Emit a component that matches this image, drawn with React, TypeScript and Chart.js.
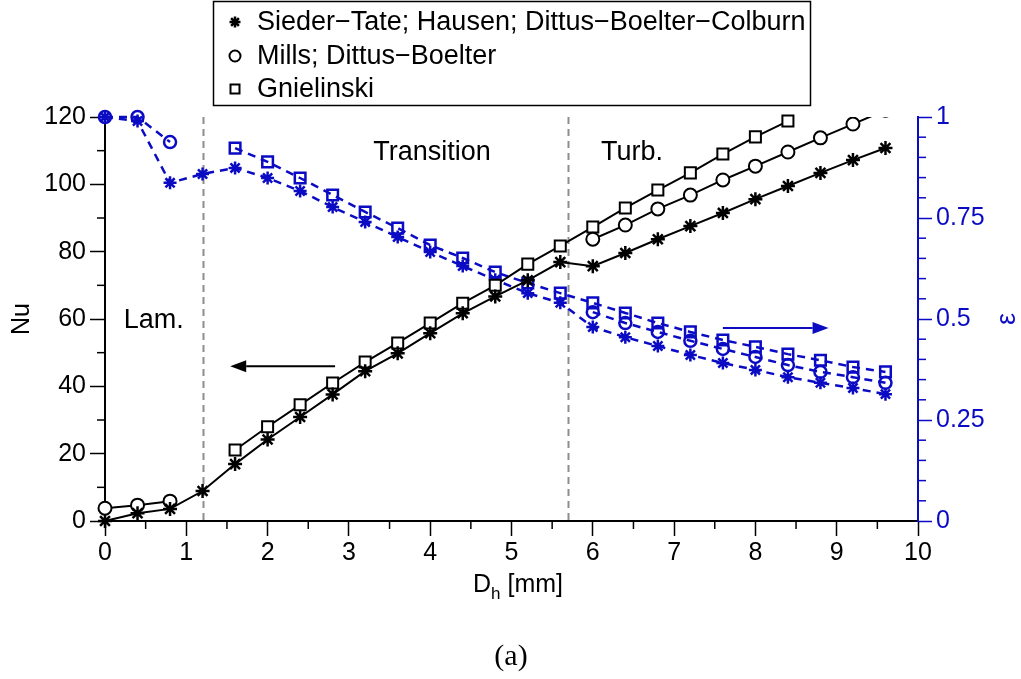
import { useEffect, useRef } from 'react';
import { Chart, registerables } from 'chart.js';

Chart.register(...registerables);

// Hydraulic diameter D_h [mm]
const diameters = [0, 0.4, 0.8, 1.2, 1.6, 2.0, 2.4, 2.8, 3.2, 3.6, 4.0, 4.4, 4.8, 5.2, 5.6, 6.0, 6.4, 6.8, 7.2, 7.6, 8.0, 8.4, 8.8, 9.2, 9.6];

// Nusselt number (left axis)
const nuSiederTate = [0, 2.3, 3.6, 8.9, 16.9, 24.2, 30.9, 37.6, 44.5, 49.8, 55.8, 61.7, 66.7, 71.5, 76.9, 75.7, 79.6, 83.7, 87.6, 91.5, 95.6, 99.5, 103.4, 107.2, 110.8];
const nuMills = [3.8, 4.7, 5.9, null, null, null, null, null, null, null, null, null, null, null, null, 83.7, 87.9, 92.7, 96.8, 101.3, 105.4, 109.6, 113.8, 117.9, 122];
const nuGnielinski = [null, null, null, null, 21.1, 28, 34.5, 41, 47.2, 52.9, 58.8, 64.7, 70, 76.3, 81.7, 87.3, 93, 98.3, 103.4, 109, 114.1, 118.8, null, null, null];

// Effectiveness ε (right axis)
const epsSiederTate = [1.0, 0.99, 0.837, 0.859, 0.874, 0.849, 0.817, 0.777, 0.74, 0.703, 0.666, 0.631, 0.597, 0.564, 0.54, 0.48, 0.455, 0.433, 0.411, 0.391, 0.374, 0.356, 0.342, 0.329, 0.314];
const epsMills = [1.0, 1.0, 0.938, null, null, null, null, null, null, null, null, null, null, null, null, 0.517, 0.49, 0.468, 0.446, 0.426, 0.406, 0.386, 0.369, 0.356, 0.342];
const epsGnielinski = [null, null, null, null, 0.923, 0.889, 0.849, 0.807, 0.765, 0.725, 0.683, 0.651, 0.616, 0.589, 0.564, 0.54, 0.515, 0.49, 0.468, 0.448, 0.431, 0.413, 0.398, 0.381, 0.369];

const correlationNames = ['Sieder−Tate; Hausen; Dittus−Boelter−Colburn', 'Mills; Dittus−Boelter', 'Gnielinski'];
const markerStyles = ['star', 'circle', 'rect'];

// Flow regime boundaries [mm] and regime names
const regimeBounds = [1.2, 5.7];
const regimeNames = ['Lam.', 'Transition', 'Turb.'];

const BLUE = '#0b0bc4';
const FONT = '"Liberation Sans", Arial, sans-serif';

type Pt = { x: number; y: number | null };
const toPoints = (ys: (number | null)[]): Pt[] => diameters.map((x, i) => ({ x, y: ys[i] }));

function marker(ctx: CanvasRenderingContext2D, style: string, x: number, y: number, r: number) {
  ctx.beginPath();
  if (style === 'star') {
    for (let k = 0; k < 4; k++) {
      const a = (k * Math.PI) / 4;
      ctx.moveTo(x - r * Math.cos(a), y - r * Math.sin(a));
      ctx.lineTo(x + r * Math.cos(a), y + r * Math.sin(a));
    }
    ctx.stroke();
  } else if (style === 'circle') {
    ctx.arc(x, y, r, 0, Math.PI * 2);
    ctx.stroke();
  } else {
    ctx.rect(x - r, y - r, 2 * r, 2 * r);
    ctx.stroke();
  }
}

function arrow(ctx: CanvasRenderingContext2D, x0: number, x1: number, y: number, color: string) {
  const dir = Math.sign(x1 - x0);
  const head = 16;
  ctx.save();
  ctx.strokeStyle = color;
  ctx.fillStyle = color;
  ctx.lineWidth = 2;
  ctx.beginPath();
  ctx.moveTo(x0, y);
  ctx.lineTo(x1 - dir * head, y);
  ctx.stroke();
  ctx.beginPath();
  ctx.moveTo(x1, y);
  ctx.lineTo(x1 - dir * head, y - 6);
  ctx.lineTo(x1 - dir * head, y + 6);
  ctx.closePath();
  ctx.fill();
  ctx.restore();
}

const decorations = {
  id: 'decorations',
  beforeDatasetsDraw(chart: any) {
    const { ctx, chartArea, scales } = chart;
    ctx.save();
    ctx.strokeStyle = '#8e8e8e';
    ctx.lineWidth = 2;
    ctx.setLineDash([7, 5]);
    for (const b of regimeBounds) {
      const px = Math.round(scales.x.getPixelForValue(b)) + 0.5;
      ctx.beginPath();
      ctx.moveTo(px, chartArea.top);
      ctx.lineTo(px, chartArea.bottom);
      ctx.stroke();
    }
    ctx.restore();
  },
  afterDraw(chart: any) {
    const { ctx, chartArea, scales } = chart;
    const { x, y, y1 } = scales;
    ctx.save();

    // minor ticks
    ctx.lineWidth = 1.5;
    ctx.strokeStyle = '#000';
    for (let v = 0.5; v < 10; v += 1) {
      const px = x.getPixelForValue(v);
      ctx.beginPath();
      ctx.moveTo(px, chartArea.bottom);
      ctx.lineTo(px, chartArea.bottom + 8);
      ctx.stroke();
    }
    for (let v = 10; v < 120; v += 20) {
      const py = y.getPixelForValue(v);
      ctx.beginPath();
      ctx.moveTo(chartArea.left - 8, py);
      ctx.lineTo(chartArea.left, py);
      ctx.stroke();
    }
    ctx.strokeStyle = BLUE;
    for (let k = 1; k < 20; k++) {
      if (k % 5 === 0) continue;
      const py = y1.getPixelForValue(k * 0.05);
      ctx.beginPath();
      ctx.moveTo(chartArea.right, py);
      ctx.lineTo(chartArea.right + 8, py);
      ctx.stroke();
    }

    // regime names
    ctx.fillStyle = '#000';
    ctx.font = `27px ${FONT}`;
    ctx.textBaseline = 'middle';
    ctx.textAlign = 'left';
    ctx.fillText(regimeNames[0], x.getPixelForValue(0.23), y.getPixelForValue(59.5));
    ctx.fillText(regimeNames[1], x.getPixelForValue(3.3), y.getPixelForValue(109.5));
    ctx.fillText(regimeNames[2], x.getPixelForValue(6.1), y.getPixelForValue(109.5));

    // arrows pointing to the respective axes
    arrow(ctx, x.getPixelForValue(2.83), x.getPixelForValue(1.54), y.getPixelForValue(46), '#000');
    arrow(ctx, x.getPixelForValue(7.6), x.getPixelForValue(8.9), y1.getPixelForValue(0.478), BLUE);

    // axis titles
    ctx.textAlign = 'center';
    ctx.font = `25px ${FONT}`;
    ctx.save();
    ctx.translate(22, (chartArea.top + chartArea.bottom) / 2);
    ctx.rotate(-Math.PI / 2);
    ctx.fillText('Nu', 0, 0);
    ctx.restore();
    ctx.save();
    ctx.fillStyle = BLUE;
    ctx.font = `27px ${FONT}`;
    ctx.translate(1008, (chartArea.top + chartArea.bottom) / 2);
    ctx.rotate(-Math.PI / 2);
    ctx.fillText('ε', 0, 0);
    ctx.restore();

    // x title with subscript
    ctx.textAlign = 'left';
    ctx.textBaseline = 'alphabetic';
    const big = `25px ${FONT}`;
    const small = `17px ${FONT}`;
    ctx.font = big;
    const wD = ctx.measureText('D').width;
    const wRest = ctx.measureText(' [mm]').width;
    ctx.font = small;
    const wH = ctx.measureText('h').width;
    const total = wD + wH + wRest;
    let tx = 518 - total / 2;
    const base = 592;
    ctx.font = big;
    ctx.fillText('D', tx, base);
    tx += wD;
    ctx.font = small;
    ctx.fillText('h', tx, base + 7);
    tx += wH;
    ctx.font = big;
    ctx.fillText(' [mm]', tx, base);

    // legend
    ctx.lineWidth = 1.5;
    ctx.strokeStyle = '#000';
    ctx.strokeRect(213.5, 1.5, 597, 104);
    ctx.font = `27px ${FONT}`;
    ctx.textBaseline = 'middle';
    const rows = [22, 56, 89];
    correlationNames.forEach((name, i) => {
      ctx.lineWidth = i === 0 ? 2.5 : 2;
      marker(ctx, markerStyles[i], 235, rows[i], i === 0 ? 5.5 : i === 1 ? 5.5 : 4.5);
      ctx.fillText(name, 257, rows[i] + 1);
    });

    // caption
    ctx.font = '30px "Liberation Serif", "Times New Roman", serif';
    ctx.textAlign = 'center';
    ctx.fillText('(a)', 511, 657);

    ctx.restore();
  },
};

export default function App() {
  const ref = useRef<HTMLCanvasElement | null>(null);

  useEffect(() => {
    if (!ref.current) return;
    const open = { left: 12, right: 12, top: 12, bottom: 12 };
    const black = (i: number, data: (number | null)[], r: number, clip: any) => ({
      label: correlationNames[i],
      data: toPoints(data),
      yAxisID: 'y',
      clip,
      borderColor: '#000',
      borderWidth: 2,
      pointStyle: markerStyles[i],
      pointRadius: r,
      pointBorderWidth: i === 0 ? 2.5 : 2,
      pointBorderColor: '#000',
      pointBackgroundColor: '#fff',
      spanGaps: false,
    });
    const blue = (i: number, data: (number | null)[], r: number) => ({
      label: 'ε ' + correlationNames[i],
      data: toPoints(data),
      yAxisID: 'y1',
      clip: open,
      borderColor: BLUE,
      borderWidth: 2.5,
      borderDash: [8, 6],
      pointStyle: markerStyles[i],
      pointRadius: r,
      pointBorderWidth: 2.5,
      pointBorderColor: BLUE,
      pointBackgroundColor: 'rgba(0,0,0,0)',
      spanGaps: false,
    });

    const tickFont = { family: FONT, size: 25 };
    const chart = new Chart(ref.current, {
      type: 'line',
      data: {
        datasets: [
          black(0, nuSiederTate, 7, open),
          // the Mills curve leaves the plot at the top edge
          black(1, nuMills, 6.5, { left: 12, right: 12, top: 0, bottom: 12 }),
          black(2, nuGnielinski, 7.8, open),
          blue(0, epsSiederTate, 6.5),
          blue(1, epsMills, 6),
          blue(2, epsGnielinski, 7.5),
        ] as any,
      },
      options: {
        animation: false,
        responsive: false,
        devicePixelRatio: 1,
        layout: { padding: { top: 117, left: 0, right: 0, bottom: 0 } },
        plugins: { legend: { display: false }, tooltip: { enabled: false } },
        elements: { line: { tension: 0 } },
        scales: {
          x: {
            type: 'linear',
            position: 'bottom',
            min: 0,
            max: 10,
            ticks: { stepSize: 1, color: '#000', font: tickFont, padding: 2, maxRotation: 0, callback: (v: any) => String(v) },
            grid: { display: true, drawOnChartArea: false, drawTicks: true, tickLength: 15, tickWidth: 1.5, tickColor: '#000' },
            border: { display: true, color: '#000', width: 2 },
            afterFit: (s: any) => { s.height = 158; },
          },
          y: {
            type: 'linear',
            position: 'left',
            min: 0,
            max: 120,
            ticks: { stepSize: 20, color: '#000', font: tickFont, padding: 4, callback: (v: any) => String(v) },
            grid: { display: true, drawOnChartArea: false, drawTicks: true, tickLength: 15, tickWidth: 1.5, tickColor: '#000' },
            border: { display: true, color: '#000', width: 2 },
            afterFit: (s: any) => { s.width = 105; },
          },
          y1: {
            type: 'linear',
            position: 'right',
            min: 0,
            max: 1,
            ticks: { stepSize: 0.25, color: BLUE, font: tickFont, padding: 4, callback: (v: any) => String(v) },
            grid: { display: true, drawOnChartArea: false, drawTicks: true, tickLength: 14, tickWidth: 1.5, tickColor: BLUE },
            border: { display: true, color: BLUE, width: 2 },
            afterFit: (s: any) => { s.width = 103; },
          },
        },
      } as any,
      plugins: [decorations],
    });
    return () => chart.destroy();
  }, []);

  return (
    <div style={{ position: 'absolute', left: 0, top: 0, width: 1021, height: 679, background: '#fff' }}>
      <canvas ref={ref} width={1021} height={679} style={{ width: 1021, height: 679 }} />
    </div>
  );
}
